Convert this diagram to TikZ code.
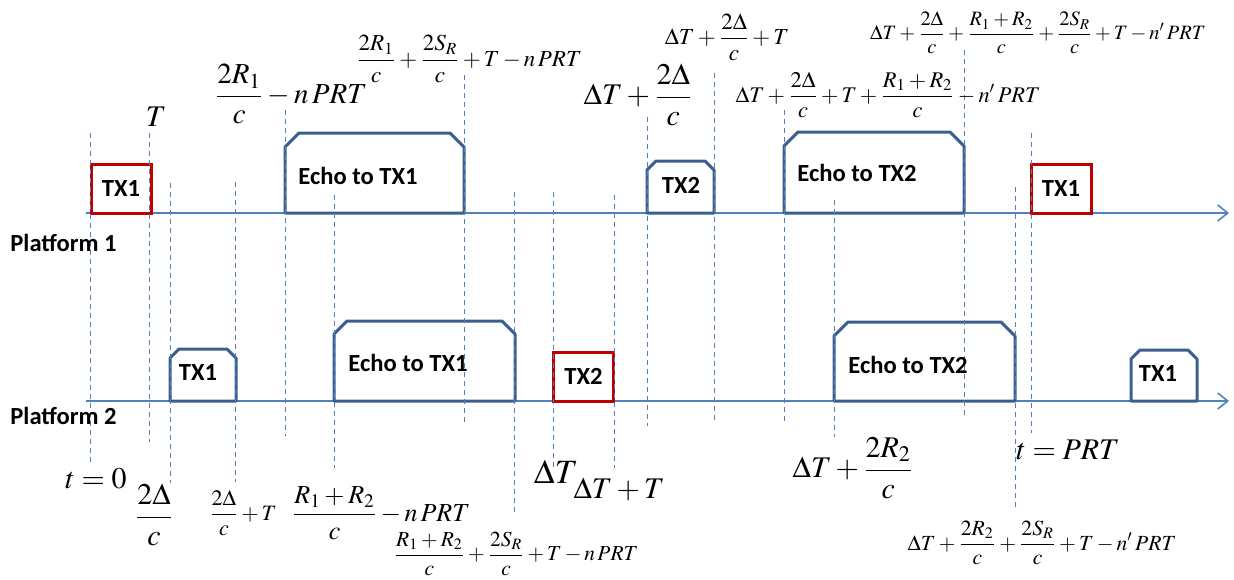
\documentclass[tikz,border=0pt]{standalone}
\usepackage{mathptmx}
\usepackage{fontspec}
\newfontfamily\calfont{Carlito}
\usetikzlibrary{arrows.meta}
\definecolor{axisblue}{HTML}{4F81BD}
\definecolor{pulseblue}{HTML}{3A5F8F}
\definecolor{txred}{HTML}{C00000}
\begin{document}
\begin{tikzpicture}[x=0.5pt,y=-0.5pt,>={Straight Barb[length=5pt,width=8pt]},
 axis/.style={->,line width=0.8pt,draw=axisblue},
 guide/.style={draw=axisblue,line width=0.5pt,dash pattern=on 2.5pt off 2pt},
 pulse/.style={draw=pulseblue,line width=1.5pt,line join=round},
 txbox/.style={draw=txred,line width=1.5pt,minimum width=30pt,minimum height=24.5pt,inner sep=0pt,font=\calfont\bfseries\fontsize{12.3}{14}\selectfont},
 boxtxt/.style={inner sep=0pt,font=\calfont\bfseries\fontsize{12.3}{14}\selectfont},
 bigm/.style={inner sep=0pt,font=\fontsize{15}{18}\selectfont},
 smallm/.style={inner sep=0pt,font=\fontsize{11.5}{14}\selectfont}]
\useasboundingbox (0,0) rectangle (1234,579);
\coordinate (p1a) at (86,213); \coordinate (p1b) at (1229,213);
\coordinate (p2a) at (86,401); \coordinate (p2b) at (1229,401);
\draw[axis] (p1a)--(p1b);
\draw[axis] (p2a)--(p2b);
\foreach \xa/\xb/\yt/\yb/\c in {285/464/133/213/14,647/714/161/213/9,784/964/132/213/14,170/236/349/401/9,334/515/321/401/13,834/1015/322/401/14,1131/1197/350/401/9}
 \draw[pulse] (\xa,\yb)--(\xa,\yt+\c)--(\xa+\c,\yt)--(\xb-\c,\yt)--(\xb,\yt+\c)--(\xb,\yb)--cycle;
\node[txbox] (txa) at (121,188.5) {TX1};
\node[txbox] (txb) at (583.5,376.5) {TX2};
\node[txbox] (txc) at (1061,188.5) {TX1};
\foreach \x/\ya/\yb in {90/133/462,149/133/442,170/183/483,235/182/482,285/110/436,334/195/468,464/75/425,514/192/512,553/192/467,614/195/468,647/117/426,714/73/422,784/110/422,834/200/437,964/50/418,1015/187/507,1031/133/433}
 \draw[guide] (\x,\ya)--(\x,\yb);
\node[boxtxt,anchor=west] (echoa) at (298,176) {Echo to TX1};
\node[boxtxt] (txd) at (681,185) {TX2};
\node[boxtxt,anchor=west] (echob) at (797,173) {Echo to TX2};
\node[boxtxt] (txe) at (198,372) {TX1};
\node[boxtxt,anchor=west] (echoc) at (348,363) {Echo to TX1};
\node[boxtxt,anchor=west] (echod) at (848,365) {Echo to TX2};
\node[boxtxt] (txf) at (1158,373) {TX1};
\node[boxtxt,anchor=west] (plat1) at (10,243) {Platform 1};
\node[boxtxt,anchor=west] (plat2) at (10,416) {Platform 2};
\node[bigm] (tpulse) at (156,117) {$T$};
\node[bigm,font=\fontsize{14.5}{17}\selectfont] (echostart) at (291,94) {$\displaystyle\frac{2R_1}{c}-n\,PRT$};
\node[smallm] (echoend) at (469,59) {$\displaystyle\frac{2R_1}{c}+\frac{2S_R}{c}+T-n\,PRT$};
\node[bigm] (txtwo) at (638,95) {$\displaystyle\Delta T+\frac{2\Delta}{c}$};
\node[smallm] (txtwoend) at (727,37) {$\displaystyle\Delta T+\frac{2\Delta}{c}+T$};
\node[smallm,font=\fontsize{11.2}{13}\selectfont] (echotwo) at (888,95) {$\displaystyle\Delta T+\frac{2\Delta}{c}+T+\frac{R_1+R_2}{c}-n'\,PRT$};
\node[smallm,font=\fontsize{10.2}{12}\selectfont] (echotwoend) at (1038,33) {$\displaystyle\Delta T+\frac{2\Delta}{c}+\frac{R_1+R_2}{c}+\frac{2S_R}{c}+T-n'\,PRT$};
\node[bigm] (tzero) at (96,479) {$t=0$};
\node[bigm] (rxone) at (154,515) {$\displaystyle\frac{2\Delta}{c}$};
\node[smallm,font=\fontsize{11}{13}\selectfont] (rxoneend) at (243,513) {$\displaystyle\frac{2\Delta}{c}+T$};
\node[smallm,font=\fontsize{13}{15}\selectfont] (echothree) at (381,513) {$\displaystyle\frac{R_1+R_2}{c}-n\,PRT$};
\node[smallm,font=\fontsize{10.7}{13}\selectfont] (echothreeend) at (516,554) {$\displaystyle\frac{R_1+R_2}{c}+\frac{2S_R}{c}+T-n\,PRT$};
\node[bigm,font=\fontsize{17}{20}\selectfont] (dt) at (556,472) {$\Delta T$};
\node[bigm] (dtend) at (619,489) {$\Delta T+T$};
\node[bigm] (echofour) at (853,468) {$\displaystyle\Delta T+\frac{2R_2}{c}$};
\node[bigm] (tprt) at (1068,450) {$t=PRT$};
\node[smallm,font=\fontsize{10.8}{13}\selectfont] (echofourend) at (1042,543) {$\displaystyle\Delta T+\frac{2R_2}{c}+\frac{2S_R}{c}+T-n'\,PRT$};
\end{tikzpicture}
\end{document}
